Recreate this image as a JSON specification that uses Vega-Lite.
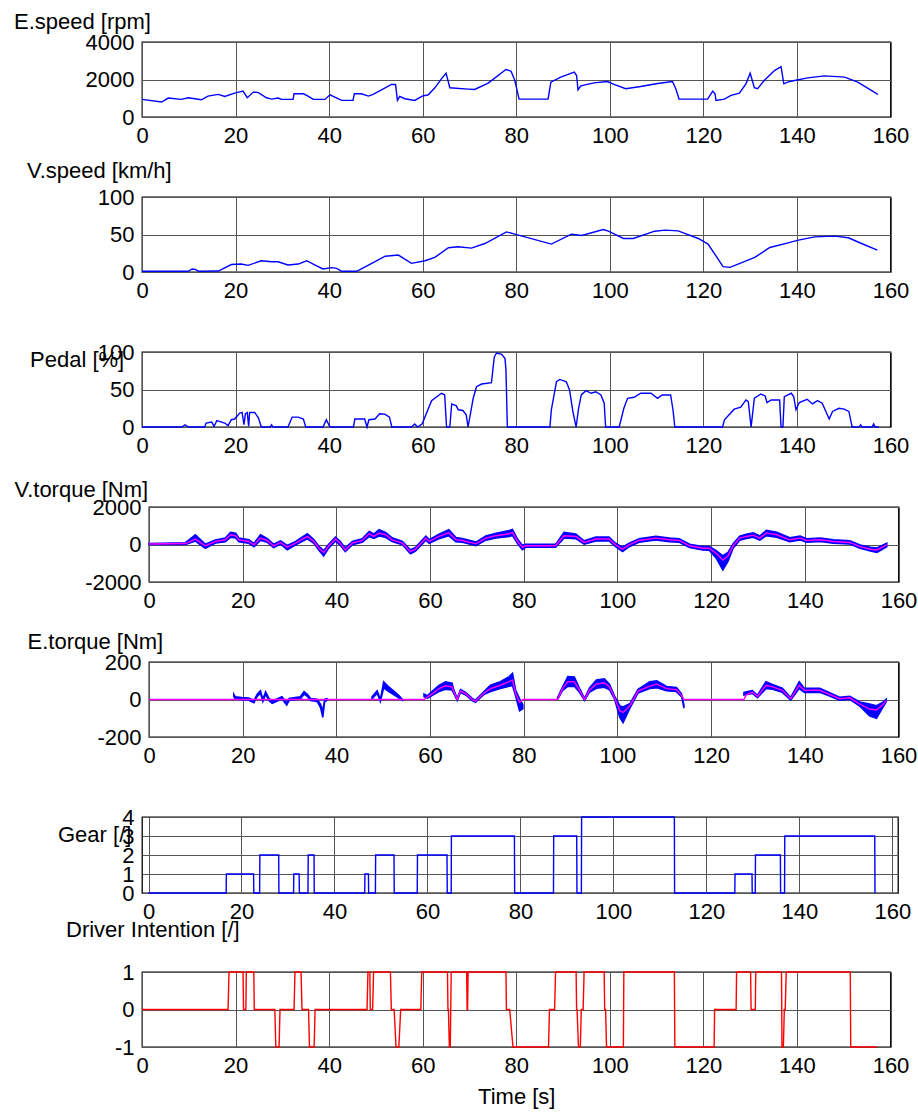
{
  "$schema": "https://vega.github.io/schema/vega-lite/v6.json",
  "padding": {"left": 12, "top": 9, "right": 5, "bottom": 5},
  "bounds": "flush",
  "spacing": 155,
  "datasets": {
    "es": [{"t":0,"v":938},{"t":4.2,"v":797},{"t":5.6,"v":1009},{"t":8.4,"v":938},{"t":9.9,"v":1027},{"t":12.7,"v":920},{"t":14.1,"v":1115},{"t":16.3,"v":1204},{"t":17.7,"v":1097},{"t":19.8,"v":1274},{"t":21.6,"v":1381},{"t":22.5,"v":1027},{"t":23.8,"v":1328},{"t":24.8,"v":1310},{"t":26.6,"v":1027},{"t":27.7,"v":956},{"t":29.1,"v":1009},{"t":29.8,"v":938},{"t":32.3,"v":938},{"t":32.5,"v":1239},{"t":34.5,"v":1239},{"t":35.5,"v":1115},{"t":36.6,"v":938},{"t":39.1,"v":938},{"t":40.2,"v":1186},{"t":41.2,"v":1062},{"t":42.7,"v":885},{"t":45.1,"v":885},{"t":45.4,"v":1239},{"t":46.9,"v":1239},{"t":48.4,"v":1115},{"t":49.4,"v":1204},{"t":51.2,"v":1451},{"t":53.3,"v":1735},{"t":54.2,"v":1735},{"t":54.6,"v":885},{"t":55.1,"v":1097},{"t":56.2,"v":974},{"t":58.3,"v":885},{"t":59.9,"v":1115},{"t":61.2,"v":1186},{"t":62.6,"v":1558},{"t":64.0,"v":2036},{"t":65.0,"v":2336},{"t":65.8,"v":1558},{"t":69.7,"v":1487},{"t":71.1,"v":1469},{"t":74.0,"v":1805},{"t":77.8,"v":2531},{"t":78.9,"v":2443},{"t":79.7,"v":1947},{"t":80.6,"v":956},{"t":86.8,"v":956},{"t":87.4,"v":1859},{"t":89.5,"v":2124},{"t":92.4,"v":2390},{"t":92.9,"v":2213},{"t":93.2,"v":1451},{"t":93.8,"v":1664},{"t":96.6,"v":1823},{"t":99.5,"v":1894},{"t":100.9,"v":1735},{"t":103.4,"v":1505},{"t":106.6,"v":1628},{"t":110.2,"v":1788},{"t":113.4,"v":1894},{"t":114.1,"v":1505},{"t":114.8,"v":956},{"t":120.9,"v":956},{"t":122.0,"v":1381},{"t":122.5,"v":1239},{"t":122.7,"v":885},{"t":124.5,"v":956},{"t":125.9,"v":1151},{"t":127.7,"v":1274},{"t":129.1,"v":1770},{"t":130.0,"v":2336},{"t":130.9,"v":1558},{"t":131.6,"v":1505},{"t":133.0,"v":1947},{"t":135.2,"v":2478},{"t":136.6,"v":2690},{"t":137.2,"v":1770},{"t":138.0,"v":1859},{"t":139.5,"v":1947},{"t":142.3,"v":2089},{"t":145.9,"v":2195},{"t":150.2,"v":2124},{"t":153.0,"v":1859},{"t":157.3,"v":1204}],
    "vs": [{"t":0,"v":1},{"t":9.9,"v":1},{"t":10.7,"v":4},{"t":11.4,"v":3.5},{"t":12.1,"v":1},{"t":16.3,"v":1.3},{"t":19.1,"v":10},{"t":21.2,"v":10.6},{"t":22.7,"v":8.8},{"t":25.5,"v":15},{"t":27.7,"v":13.7},{"t":29.1,"v":13.7},{"t":31.2,"v":9.3},{"t":33.4,"v":10.6},{"t":35.2,"v":15},{"t":37.0,"v":9.3},{"t":38.7,"v":4},{"t":40.5,"v":5.8},{"t":41.6,"v":4.9},{"t":42.7,"v":1},{"t":45.9,"v":1},{"t":48.4,"v":9.3},{"t":52.0,"v":21},{"t":54.8,"v":22.6},{"t":57.6,"v":11.5},{"t":60.5,"v":15},{"t":62.6,"v":19.5},{"t":65.5,"v":32.3},{"t":67.6,"v":33.6},{"t":70.4,"v":31.9},{"t":73.3,"v":38},{"t":77.9,"v":53.5},{"t":79.7,"v":50.4},{"t":87.5,"v":37.2},{"t":91.8,"v":50.4},{"t":94.0,"v":48.7},{"t":98.6,"v":56.6},{"t":99.7,"v":54.4},{"t":102.9,"v":44.7},{"t":105.0,"v":44.7},{"t":109.6,"v":54.4},{"t":111.8,"v":55.8},{"t":114.6,"v":54.9},{"t":118.9,"v":44.7},{"t":121.0,"v":37.2},{"t":122.8,"v":20.4},{"t":124.2,"v":7.1},{"t":125.7,"v":6.2},{"t":128.2,"v":12.4},{"t":131.0,"v":19.5},{"t":134.2,"v":32.7},{"t":138.1,"v":38.9},{"t":140.3,"v":42.5},{"t":143.8,"v":46.9},{"t":148.1,"v":47.8},{"t":151.0,"v":45.6},{"t":153.8,"v":38},{"t":157.2,"v":29.2}],
    "pd": [{"t":0,"v":0},{"t":8.5,"v":0},{"t":9.2,"v":3},{"t":9.9,"v":0},{"t":13.4,"v":0},{"t":13.7,"v":5.3},{"t":14.9,"v":6.6},{"t":15.4,"v":1},{"t":16.0,"v":8.4},{"t":17.0,"v":6.6},{"t":17.7,"v":5.3},{"t":18.4,"v":1.8},{"t":19.1,"v":9.7},{"t":19.8,"v":10.6},{"t":20.9,"v":18.5},{"t":21.4,"v":19.4},{"t":21.8,"v":3},{"t":22.1,"v":17.6},{"t":22.5,"v":19.4},{"t":22.8,"v":1},{"t":23.0,"v":19.4},{"t":24.1,"v":19.4},{"t":24.9,"v":11.9},{"t":25.5,"v":0},{"t":27.4,"v":0},{"t":27.7,"v":3},{"t":28.0,"v":0},{"t":31.2,"v":0},{"t":32.1,"v":13.2},{"t":33.4,"v":13.2},{"t":34.5,"v":10.6},{"t":35.0,"v":0},{"t":38.7,"v":0},{"t":39.4,"v":9.7},{"t":40.1,"v":0.9},{"t":40.4,"v":0},{"t":45.2,"v":0},{"t":45.5,"v":10.6},{"t":47.6,"v":10.6},{"t":48.1,"v":0},{"t":48.5,"v":9.7},{"t":49.8,"v":10.6},{"t":50.8,"v":17.6},{"t":51.9,"v":17.2},{"t":52.9,"v":13.2},{"t":53.4,"v":0},{"t":57.6,"v":0},{"t":58.3,"v":4},{"t":58.9,"v":0},{"t":59.9,"v":4.4},{"t":61.9,"v":35},{"t":64.0,"v":45},{"t":64.7,"v":43},{"t":65.1,"v":0},{"t":65.8,"v":0},{"t":66.2,"v":30.8},{"t":67.2,"v":28.2},{"t":67.6,"v":23},{"t":68.6,"v":22},{"t":69.3,"v":16.3},{"t":69.7,"v":0},{"t":70.8,"v":38.3},{"t":71.5,"v":53.7},{"t":72.6,"v":57.3},{"t":74.7,"v":59},{"t":75.3,"v":93.4},{"t":75.8,"v":98.7},{"t":76.9,"v":96.9},{"t":77.6,"v":91.2},{"t":77.8,"v":75.8},{"t":78.1,"v":0},{"t":87.2,"v":0},{"t":87.5,"v":23},{"t":88.6,"v":60.3},{"t":89.3,"v":63.4},{"t":90.7,"v":60.3},{"t":91.4,"v":49.3},{"t":92.1,"v":20.7},{"t":92.8,"v":0},{"t":93.3,"v":23.8},{"t":93.9,"v":42.7},{"t":94.9,"v":48.5},{"t":96.0,"v":45},{"t":97.0,"v":47},{"t":98.1,"v":42.7},{"t":98.8,"v":31.7},{"t":99.1,"v":0},{"t":102.0,"v":0},{"t":103.0,"v":25},{"t":103.8,"v":38.3},{"t":105.2,"v":39.6},{"t":106.6,"v":45},{"t":108.8,"v":45},{"t":110.2,"v":38.3},{"t":111.2,"v":42.7},{"t":113.0,"v":42.7},{"t":113.5,"v":23},{"t":113.9,"v":0},{"t":124.1,"v":0},{"t":124.5,"v":9.7},{"t":126.6,"v":23.8},{"t":128.0,"v":26.4},{"t":129.1,"v":36.1},{"t":129.6,"v":33.9},{"t":130.2,"v":0},{"t":130.9,"v":38.3},{"t":132.3,"v":44},{"t":133.2,"v":41.4},{"t":133.6,"v":32.6},{"t":134.5,"v":36.1},{"t":136.3,"v":36.1},{"t":136.6,"v":0},{"t":137.0,"v":0},{"t":137.3,"v":40.5},{"t":138.8,"v":45},{"t":139.3,"v":40.5},{"t":139.8,"v":23},{"t":140.5,"v":32.6},{"t":142.2,"v":37},{"t":143.3,"v":30.8},{"t":144.4,"v":35.2},{"t":145.4,"v":31.7},{"t":146.9,"v":10.6},{"t":147.6,"v":20.7},{"t":149.0,"v":25},{"t":150.1,"v":23.8},{"t":151.1,"v":20.7},{"t":151.8,"v":0},{"t":153.3,"v":0},{"t":153.6,"v":3},{"t":153.9,"v":0},{"t":156.1,"v":0},{"t":156.4,"v":4},{"t":156.7,"v":0},{"t":157.5,"v":0}],
    "vt": [{"t":0,"m":30,"lo":0,"hi":60},{"t":7.8,"m":50,"lo":0,"hi":100},{"t":9.9,"m":290,"lo":180,"hi":520},{"t":12.0,"m":-70,"lo":-200,"hi":20},{"t":14.2,"m":160,"lo":80,"hi":240},{"t":16.3,"m":250,"lo":150,"hi":350},{"t":17.4,"m":520,"lo":380,"hi":650},{"t":18.5,"m":470,"lo":350,"hi":600},{"t":19.2,"m":250,"lo":150,"hi":350},{"t":21.3,"m":160,"lo":60,"hi":260},{"t":22.4,"m":-20,"lo":-120,"hi":60},{"t":23.8,"m":340,"lo":220,"hi":520},{"t":25.2,"m":215,"lo":120,"hi":330},{"t":26.6,"m":-70,"lo":-160,"hi":20},{"t":28.1,"m":110,"lo":20,"hi":200},{"t":29.5,"m":-140,"lo":-290,"hi":-50},{"t":31.3,"m":70,"lo":-20,"hi":160},{"t":33.8,"m":430,"lo":300,"hi":570},{"t":35.2,"m":160,"lo":60,"hi":260},{"t":36.3,"m":-200,"lo":-320,"hi":-100},{"t":37.3,"m":-430,"lo":-610,"hi":-320},{"t":38.4,"m":-70,"lo":-180,"hi":30},{"t":39.8,"m":290,"lo":180,"hi":400},{"t":40.8,"m":70,"lo":-30,"hi":170},{"t":41.9,"m":-290,"lo":-380,"hi":-180},{"t":43.4,"m":70,"lo":-20,"hi":160},{"t":45.5,"m":215,"lo":120,"hi":310},{"t":47.0,"m":570,"lo":420,"hi":700},{"t":48.0,"m":430,"lo":320,"hi":560},{"t":49.1,"m":610,"lo":450,"hi":790},{"t":50.5,"m":520,"lo":380,"hi":650},{"t":51.9,"m":250,"lo":150,"hi":360},{"t":54.1,"m":70,"lo":-20,"hi":160},{"t":55.8,"m":-380,"lo":-500,"hi":-280},{"t":56.9,"m":-250,"lo":-350,"hi":-150},{"t":59.1,"m":340,"lo":230,"hi":450},{"t":59.8,"m":160,"lo":60,"hi":260},{"t":61.9,"m":430,"lo":300,"hi":550},{"t":64.0,"m":620,"lo":460,"hi":790},{"t":65.5,"m":260,"lo":150,"hi":380},{"t":66.9,"m":215,"lo":120,"hi":320},{"t":69.8,"m":35,"lo":-60,"hi":130},{"t":71.9,"m":340,"lo":230,"hi":450},{"t":74.1,"m":470,"lo":340,"hi":600},{"t":76.9,"m":570,"lo":420,"hi":750},{"t":77.6,"m":650,"lo":480,"hi":810},{"t":78.7,"m":160,"lo":40,"hi":280},{"t":79.7,"m":-140,"lo":-280,"hi":-40},{"t":80.4,"m":-70,"lo":-150,"hi":10},{"t":86.8,"m":-70,"lo":-150,"hi":10},{"t":88.6,"m":470,"lo":340,"hi":650},{"t":91.1,"m":430,"lo":310,"hi":560},{"t":92.9,"m":110,"lo":20,"hi":200},{"t":95.4,"m":290,"lo":190,"hi":400},{"t":98.2,"m":290,"lo":190,"hi":400},{"t":99.6,"m":-20,"lo":-120,"hi":70},{"t":101.1,"m":-250,"lo":-380,"hi":-140},{"t":102.5,"m":-20,"lo":-120,"hi":70},{"t":104.6,"m":215,"lo":120,"hi":310},{"t":108.2,"m":340,"lo":240,"hi":440},{"t":111.1,"m":250,"lo":150,"hi":350},{"t":113.2,"m":215,"lo":120,"hi":310},{"t":115.4,"m":-70,"lo":-160,"hi":20},{"t":118.2,"m":-200,"lo":-300,"hi":-110},{"t":119.6,"m":-200,"lo":-310,"hi":-110},{"t":121.1,"m":-470,"lo":-740,"hi":-330},{"t":122.5,"m":-830,"lo":-1360,"hi":-600},{"t":123.6,"m":-610,"lo":-900,"hi":-420},{"t":124.7,"m":-70,"lo":-200,"hi":40},{"t":126.1,"m":340,"lo":230,"hi":450},{"t":127.5,"m":430,"lo":320,"hi":550},{"t":129.0,"m":500,"lo":380,"hi":620},{"t":130.4,"m":340,"lo":230,"hi":460},{"t":131.8,"m":620,"lo":470,"hi":760},{"t":134.0,"m":520,"lo":390,"hi":650},{"t":136.8,"m":250,"lo":150,"hi":360},{"t":139.0,"m":340,"lo":240,"hi":450},{"t":140.4,"m":215,"lo":120,"hi":310},{"t":143.3,"m":250,"lo":160,"hi":340},{"t":146.1,"m":160,"lo":70,"hi":250},{"t":149.6,"m":110,"lo":20,"hi":200},{"t":151.8,"m":-110,"lo":-200,"hi":-20},{"t":154.0,"m":-250,"lo":-350,"hi":-150},{"t":155.4,"m":-290,"lo":-430,"hi":-180},{"t":157.5,"m":-20,"lo":-120,"hi":70}],
    "etb": [{"s":1,"t":18.1,"lo":16,"hi":28},{"s":1,"t":18.4,"lo":3,"hi":15},{"s":1,"t":19.8,"lo":-1,"hi":11},{"s":1,"t":21.3,"lo":-4,"hi":8},{"s":1,"t":22.4,"lo":-17,"hi":-5},{"s":1,"t":23.1,"lo":16,"hi":28},{"s":1,"t":23.8,"lo":33,"hi":47},{"s":1,"t":24.3,"lo":-11,"hi":1},{"s":1,"t":24.9,"lo":28,"hi":42},{"s":1,"t":25.6,"lo":-6,"hi":6},{"s":1,"t":26.3,"lo":-21,"hi":-9},{"s":1,"t":27.4,"lo":-8,"hi":4},{"s":1,"t":28.4,"lo":3,"hi":15},{"s":1,"t":29.4,"lo":-30,"hi":-18},{"s":1,"t":29.9,"lo":-6,"hi":6},{"s":1,"t":32.3,"lo":3,"hi":15},{"s":1,"t":33.1,"lo":28,"hi":42},{"s":1,"t":33.8,"lo":16,"hi":28},{"s":1,"t":34.5,"lo":-6,"hi":6},{"s":1,"t":35.9,"lo":-11,"hi":1},{"s":1,"t":36.6,"lo":-42,"hi":-24},{"s":1,"t":37.1,"lo":-95,"hi":-60},{"s":1,"t":37.5,"lo":-12,"hi":2},{"s":1,"t":38.0,"lo":-4,"hi":4},
      {"s":2,"t":47.6,"lo":3,"hi":15},{"s":2,"t":48.7,"lo":33,"hi":47},{"s":2,"t":49.4,"lo":-11,"hi":1},{"s":2,"t":50.1,"lo":62,"hi":95},{"s":2,"t":51.2,"lo":42,"hi":67},{"s":2,"t":53.3,"lo":9,"hi":23},{"s":2,"t":54.0,"lo":-4,"hi":4},
      {"s":3,"t":58.7,"lo":15,"hi":29},{"s":3,"t":59.4,"lo":6,"hi":20},{"s":3,"t":60.5,"lo":22,"hi":45},{"s":3,"t":61.9,"lo":42,"hi":76},{"s":3,"t":63.3,"lo":55,"hi":95},{"s":3,"t":64.7,"lo":50,"hi":87},{"s":3,"t":65.1,"lo":30,"hi":50},{"s":3,"t":65.8,"lo":-6,"hi":6},{"s":3,"t":66.5,"lo":37,"hi":53},{"s":3,"t":67.6,"lo":24,"hi":38},{"s":3,"t":69.0,"lo":-6,"hi":6},{"s":3,"t":69.7,"lo":-15,"hi":-3},{"s":3,"t":71.5,"lo":27,"hi":43},{"s":3,"t":72.9,"lo":42,"hi":76},{"s":3,"t":75.0,"lo":58,"hi":95},{"s":3,"t":76.9,"lo":70,"hi":122},{"s":3,"t":77.6,"lo":75,"hi":140},{"s":3,"t":78.3,"lo":15,"hi":47},{"s":3,"t":79.1,"lo":-60,"hi":5},{"s":3,"t":79.8,"lo":-50,"hi":-26},
      {"s":4,"t":87.2,"lo":-2,"hi":10},{"s":4,"t":88.3,"lo":48,"hi":68},{"s":4,"t":89.4,"lo":70,"hi":122},{"s":4,"t":90.8,"lo":70,"hi":120},{"s":4,"t":91.9,"lo":38,"hi":60},{"s":4,"t":93.0,"lo":-6,"hi":6},{"s":4,"t":94.0,"lo":38,"hi":60},{"s":4,"t":95.5,"lo":60,"hi":104},{"s":4,"t":97.2,"lo":65,"hi":110},{"s":4,"t":98.3,"lo":52,"hi":82},{"s":4,"t":99.4,"lo":0,"hi":18},{"s":4,"t":100.5,"lo":-96,"hi":-33},{"s":4,"t":101.2,"lo":-124,"hi":-40},{"s":4,"t":102.7,"lo":-45,"hi":-21},{"s":4,"t":104.4,"lo":35,"hi":55},{"s":4,"t":106.9,"lo":58,"hi":95},{"s":4,"t":108.4,"lo":62,"hi":100},{"s":4,"t":110.5,"lo":46,"hi":70},{"s":4,"t":112.6,"lo":42,"hi":64},{"s":4,"t":113.7,"lo":14,"hi":30},{"s":4,"t":114.2,"lo":-46,"hi":-30},
      {"s":5,"t":127.0,"lo":24,"hi":38},{"s":5,"t":128.8,"lo":32,"hi":48},{"s":5,"t":129.9,"lo":9,"hi":23},{"s":5,"t":131.7,"lo":58,"hi":95},{"s":5,"t":133.1,"lo":54,"hi":80},{"s":5,"t":135.2,"lo":38,"hi":60},{"s":5,"t":137.0,"lo":-3,"hi":11},{"s":5,"t":138.8,"lo":58,"hi":95},{"s":5,"t":139.9,"lo":38,"hi":60},{"s":5,"t":143.2,"lo":38,"hi":60},{"s":5,"t":145.3,"lo":18,"hi":36},{"s":5,"t":147.4,"lo":-4,"hi":12},{"s":5,"t":149.6,"lo":1,"hi":17},{"s":5,"t":151.7,"lo":-35,"hi":-13},{"s":5,"t":153.8,"lo":-87,"hi":-24},{"s":5,"t":155.3,"lo":-100,"hi":-33},{"s":5,"t":156.7,"lo":-40,"hi":-14},{"s":5,"t":157.4,"lo":-12,"hi":2}],
    "etm": [{"t":0,"m":0},{"t":58.7,"m":0},{"t":60.5,"m":31},{"t":61.9,"m":58},{"t":63.3,"m":73},{"t":64.7,"m":67},{"t":65.1,"m":40},{"t":65.8,"m":0},{"t":66.5,"m":45},{"t":67.6,"m":31},{"t":69.0,"m":0},{"t":69.7,"m":-9},{"t":71.5,"m":35},{"t":72.9,"m":58},{"t":75.0,"m":76},{"t":76.9,"m":95},{"t":77.6,"m":104},{"t":78.3,"m":31},{"t":79.1,"m":-15},{"t":79.8,"m":0},{"t":87.2,"m":0},{"t":88.3,"m":58},{"t":89.4,"m":95},{"t":90.8,"m":95},{"t":91.9,"m":49},{"t":93.0,"m":0},{"t":94.0,"m":49},{"t":95.5,"m":82},{"t":97.2,"m":89},{"t":98.3,"m":67},{"t":99.4,"m":9},{"t":100.5,"m":-60},{"t":101.2,"m":-69},{"t":102.7,"m":-33},{"t":104.4,"m":45},{"t":106.9,"m":71},{"t":108.4,"m":82},{"t":110.5,"m":58},{"t":112.6,"m":53},{"t":113.7,"m":22},{"t":114.2,"m":0},{"t":127.0,"m":0},{"t":127.5,"m":25},{"t":128.8,"m":40},{"t":129.9,"m":16},{"t":131.7,"m":76},{"t":133.1,"m":67},{"t":135.2,"m":49},{"t":137.0,"m":4},{"t":138.8,"m":76},{"t":139.9,"m":49},{"t":143.2,"m":49},{"t":145.3,"m":27},{"t":147.4,"m":4},{"t":149.6,"m":9},{"t":151.7,"m":-24},{"t":153.8,"m":-51},{"t":155.3,"m":-56},{"t":156.7,"m":-27},{"t":157.4,"m":-5}],
    "gear": [{"t":0,"g":0},{"t":16.7,"g":0},{"t":16.75,"g":1},{"t":22.6,"g":1},{"t":22.65,"g":0},{"t":23.9,"g":0},{"t":23.95,"g":2},{"t":28.0,"g":2},{"t":28.05,"g":0},{"t":31.2,"g":0},{"t":31.25,"g":1},{"t":32.4,"g":1},{"t":32.45,"g":0},{"t":34.3,"g":0},{"t":34.35,"g":2},{"t":35.6,"g":2},{"t":35.65,"g":0},{"t":46.5,"g":0},{"t":46.55,"g":1},{"t":47.3,"g":1},{"t":47.35,"g":0},{"t":48.8,"g":0},{"t":48.85,"g":2},{"t":52.8,"g":2},{"t":52.85,"g":0},{"t":57.8,"g":0},{"t":57.85,"g":2},{"t":64.2,"g":2},{"t":64.25,"g":0},{"t":65.1,"g":0},{"t":65.15,"g":3},{"t":78.7,"g":3},{"t":78.75,"g":0},{"t":87.1,"g":0},{"t":87.15,"g":3},{"t":92.1,"g":3},{"t":92.15,"g":0},{"t":93.1,"g":0},{"t":93.15,"g":4},{"t":113.1,"g":4},{"t":113.15,"g":0},{"t":126.1,"g":0},{"t":126.15,"g":1},{"t":129.8,"g":1},{"t":129.85,"g":0},{"t":130.5,"g":0},{"t":130.55,"g":2},{"t":135.9,"g":2},{"t":135.95,"g":0},{"t":136.8,"g":0},{"t":136.85,"g":3},{"t":156.2,"g":3},{"t":156.25,"g":0}],
    "di": [{"t":0,"d":0},{"t":18.4,"d":0},{"t":18.6,"d":1},{"t":21.6,"d":1},{"t":21.7,"d":0},{"t":22.2,"d":0},{"t":22.3,"d":1},{"t":23.9,"d":1},{"t":24.0,"d":0},{"t":28.4,"d":0},{"t":28.6,"d":-1},{"t":29.3,"d":-1},{"t":29.5,"d":0},{"t":32.5,"d":0},{"t":32.7,"d":1},{"t":34.0,"d":1},{"t":34.2,"d":0},{"t":35.6,"d":0},{"t":35.8,"d":-1},{"t":36.8,"d":-1},{"t":37.0,"d":0},{"t":48.1,"d":0},{"t":48.3,"d":1},{"t":48.7,"d":1},{"t":48.8,"d":0},{"t":49.3,"d":0},{"t":49.5,"d":1},{"t":53.1,"d":1},{"t":53.3,"d":0},{"t":53.9,"d":0},{"t":54.3,"d":-1},{"t":54.9,"d":-1},{"t":55.3,"d":0},{"t":59.6,"d":0},{"t":59.8,"d":1},{"t":65.3,"d":1},{"t":65.4,"d":0},{"t":65.5,"d":0},{"t":65.7,"d":-1},{"t":65.9,"d":-1},{"t":66.1,"d":1},{"t":69.4,"d":1},{"t":69.5,"d":0},{"t":69.6,"d":0},{"t":69.7,"d":1},{"t":77.8,"d":1},{"t":77.9,"d":0},{"t":78.6,"d":0},{"t":79.3,"d":-1},{"t":86.9,"d":-1},{"t":87.1,"d":0},{"t":88.2,"d":0},{"t":88.4,"d":1},{"t":92.8,"d":1},{"t":92.9,"d":0},{"t":93.0,"d":0},{"t":93.3,"d":-1},{"t":93.7,"d":-1},{"t":93.9,"d":0},{"t":94.3,"d":0},{"t":94.5,"d":1},{"t":98.8,"d":1},{"t":98.9,"d":0},{"t":99.1,"d":0},{"t":99.3,"d":-1},{"t":102.9,"d":-1},{"t":103.0,"d":1},{"t":113.8,"d":1},{"t":113.9,"d":-1},{"t":122.3,"d":-1},{"t":122.4,"d":0},{"t":127.0,"d":0},{"t":127.1,"d":1},{"t":130.1,"d":1},{"t":130.2,"d":0},{"t":131.1,"d":0},{"t":131.2,"d":1},{"t":136.7,"d":1},{"t":136.8,"d":-1},{"t":137.1,"d":-1},{"t":137.3,"d":0},{"t":137.5,"d":0},{"t":137.7,"d":1},{"t":151.4,"d":1},{"t":151.5,"d":-1},{"t":157.1,"d":-1}]
  },
  "vconcat": [
    {"bounds": "flush", "spacing": 0, "hconcat": [
    {
      "width": 748.5, "height": 75,
      "data": {"name": "es"},
      "mark": {"type": "line", "color": "#0000ff", "strokeWidth": 1.4},
      "encoding": {
        "x": {"field": "t", "type": "quantitative", "scale": {"domain": [0, 160], "nice": false}, "axis": {"values": [0,20,40,60,80,100,120,140,160], "title": null, "labelExpr": "'' + datum.value"}},
        "y": {"field": "v", "type": "quantitative", "scale": {"domain": [0, 4000], "nice": false}, "axis": {"values": [0,2000,4000], "labelExpr": "'' + datum.value", "title": "E.speed [rpm]", "titleAngle": 0, "titleAlign": "left", "titleBaseline": "alphabetic", "titleX": -128.5, "titleY": -14}}
      }
    }]},
    {"bounds": "flush", "spacing": 0, "hconcat": [
    {
      "width": 748.5, "height": 75,
      "data": {"name": "vs"},
      "mark": {"type": "line", "color": "#0000ff", "strokeWidth": 1.4},
      "encoding": {
        "x": {"field": "t", "type": "quantitative", "scale": {"domain": [0, 160], "nice": false}, "axis": {"values": [0,20,40,60,80,100,120,140,160], "title": null, "labelExpr": "'' + datum.value"}},
        "y": {"field": "v", "type": "quantitative", "scale": {"domain": [0, 100], "nice": false}, "axis": {"values": [0,50,100], "labelExpr": "'' + datum.value", "title": "V.speed [km/h]", "titleAngle": 0, "titleAlign": "left", "titleBaseline": "alphabetic", "titleX": -115.5, "titleY": -20}}
      }
    }]},
    {"bounds": "flush", "spacing": 0, "hconcat": [
    {
      "width": 748.5, "height": 75,
      "data": {"name": "pd"},
      "mark": {"type": "line", "color": "#0000ff", "strokeWidth": 1.4},
      "encoding": {
        "x": {"field": "t", "type": "quantitative", "scale": {"domain": [0, 160], "nice": false}, "axis": {"values": [0,20,40,60,80,100,120,140,160], "title": null, "labelExpr": "'' + datum.value"}},
        "y": {"field": "v", "type": "quantitative", "scale": {"domain": [0, 100], "nice": false}, "axis": {"values": [0,50,100], "labelExpr": "'' + datum.value", "title": "Pedal [%]", "titleAngle": 0, "titleAlign": "left", "titleBaseline": "alphabetic", "titleX": -112.5, "titleY": 14}}
      }
    }]},
    {
      "bounds": "flush",
      "spacing": 0,
      "hconcat": [
        {"width": 6.5, "height": 75, "data": {"values": []}, "mark": "point", "view": {"stroke": null}},
        {
          "width": 749.5, "height": 75,
          "data": {"name": "vt"},
          "encoding": {
            "x": {"field": "t", "type": "quantitative", "scale": {"domain": [0, 160], "nice": false}, "axis": {"values": [0,20,40,60,80,100,120,140,160], "title": null, "labelExpr": "'' + datum.value"}}
          },
          "layer": [
            {
              "mark": {"type": "area", "color": "#0000ff", "opacity": 1, "stroke": "#0000ff", "strokeWidth": 1.5},
              "encoding": {
                "y": {"field": "lo", "type": "quantitative", "scale": {"domain": [-2000, 2000], "nice": false}, "axis": {"values": [-2000,0,2000], "labelOverlap": false, "labelExpr": "'' + datum.value", "title": "V.torque [Nm]", "titleAngle": 0, "titleAlign": "left", "titleBaseline": "alphabetic", "titleX": -135, "titleY": -11}},
                "y2": {"field": "hi"}
              }
            },
            {
              "mark": {"type": "line", "color": "#ff00ff", "strokeWidth": 1.4},
              "encoding": {
                "y": {"field": "m", "type": "quantitative", "axis": {"values": [-2000,0,2000], "labelOverlap": false, "labelExpr": "'' + datum.value", "title": "V.torque [Nm]", "titleAngle": 0, "titleAlign": "left", "titleBaseline": "alphabetic", "titleX": -135, "titleY": -11}}
              }
            }
          ]
        }
      ]
    },
    {
      "bounds": "flush",
      "spacing": 0,
      "hconcat": [
        {"width": 6.5, "height": 75, "data": {"values": []}, "mark": "point", "view": {"stroke": null}},
        {
          "width": 749.5, "height": 75,
          "encoding": {
            "x": {"field": "t", "type": "quantitative", "scale": {"domain": [0, 160], "nice": false}, "axis": {"values": [0,20,40,60,80,100,120,140,160], "title": null, "labelExpr": "'' + datum.value"}}
          },
          "layer": [
            {
              "data": {"name": "etb"},
              "mark": {"type": "area", "color": "#0000ff", "opacity": 1, "stroke": "#0000ff", "strokeWidth": 1.5},
              "encoding": {
                "y": {"field": "lo", "type": "quantitative", "scale": {"domain": [-200, 200], "nice": false}, "axis": {"values": [-200,0,200], "labelOverlap": false, "labelExpr": "'' + datum.value", "title": "E.torque [Nm]", "titleAngle": 0, "titleAlign": "left", "titleBaseline": "alphabetic", "titleX": -122, "titleY": -14}},
                "y2": {"field": "hi"},
                "detail": {"field": "s", "type": "nominal"}
              }
            },
            {
              "data": {"name": "etm"},
              "mark": {"type": "line", "color": "#ff00ff", "strokeWidth": 1.4},
              "encoding": {
                "y": {"field": "m", "type": "quantitative", "axis": {"values": [-200,0,200], "labelOverlap": false, "labelExpr": "'' + datum.value", "title": "E.torque [Nm]", "titleAngle": 0, "titleAlign": "left", "titleBaseline": "alphabetic", "titleX": -122, "titleY": -14}}
              }
            }
          ]
        }
      ]
    },
    {"bounds": "flush", "spacing": 0, "hconcat": [
    {
      "width": 756, "height": 76,
      "data": {"name": "gear"},
      "mark": {"type": "line", "color": "#0000ff", "strokeWidth": 1.4},
      "encoding": {
        "x": {"field": "t", "type": "quantitative", "scale": {"domain": [-1.4, 161.2], "nice": false}, "axis": {"values": [0,20,40,60,80,100,120,140,160], "title": null, "labelExpr": "'' + datum.value"}},
        "y": {"field": "g", "type": "quantitative", "scale": {"domain": [0, 4], "nice": false}, "axis": {"values": [0,1,2,3,4], "labelExpr": "'' + datum.value", "title": "Gear [/]", "titleAngle": 0, "titleAlign": "left", "titleBaseline": "alphabetic", "titleX": -84.5, "titleY": 24}}
      }
    }]},
    {"bounds": "flush", "spacing": 0, "hconcat": [
    {
      "width": 748.5, "height": 75,
      "data": {"name": "di"},
      "mark": {"type": "line", "color": "#ff0000", "strokeWidth": 1.4},
      "encoding": {
        "x": {"field": "t", "type": "quantitative", "scale": {"domain": [0, 160], "nice": false}, "axis": {"values": [0,20,40,60,80,100,120,140,160], "labelExpr": "'' + datum.value", "title": "Time [s]", "titleBaseline": "alphabetic", "titleY": 56}},
        "y": {"field": "d", "type": "quantitative", "scale": {"domain": [-1, 1], "nice": false}, "axis": {"values": [-1,0,1], "labelExpr": "'' + datum.value", "title": "Driver Intention [/]", "titleAngle": 0, "titleAlign": "left", "titleBaseline": "alphabetic", "titleX": -76.5, "titleY": -36}}
      }
    }]}
  ],
  "config": {
    "font": "Liberation Sans",
    "view": {"stroke": "#000000", "strokeWidth": 1.3},
    "axis": {"grid": true, "gridColor": "#555555", "gridWidth": 1, "gridOpacity": 1, "ticks": false, "tickSize": 0, "domain": false, "labelFont": "Liberation Sans", "labelFontSize": 22, "labelColor": "#000000", "labelPadding": 8, "labelFlush": false, "labelOverlap": false, "titleFont": "Liberation Sans", "titleFontSize": 22, "titleFontWeight": "normal", "titleColor": "#000000"}
  }
}
